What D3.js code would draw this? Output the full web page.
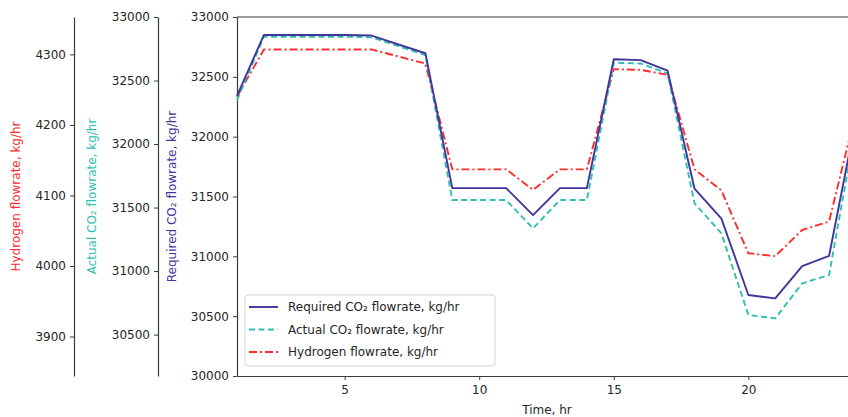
<!DOCTYPE html>
<html>
<head>
<meta charset="utf-8">
<script src="https://cdn.jsdelivr.net/npm/d3@7/dist/d3.min.js"></script>
<style>
  html, body { margin: 0; padding: 0; background: #fff; overflow: hidden; }
  svg { display: block; font-family: "DejaVu Sans", sans-serif; }
</style>
</head>
<body>
<svg id="chart" width="848" height="417"></svg>
<script>
// Hourly flowrates over one day
const hours = [1,2,3,4,5,6,7,8,9,10,11,12,13,14,15,16,17,18,19,20,21,22,23,24];
const requiredCO2 = [32340,32850,32850,32850,32850,32845,32770,32697,31570,31570,31570,31345,31570,31570,32647,32640,32551,31565,31315,30677,30649,30919,31003,32150];
const actualCO2   = [32346,32845,32845,32845,32845,32840,32770,32701,31559,31559,31559,31336,31559,31559,32640,32634,32557,31533,31297,30654,30628,30903,30969,32150];
const hydrogen    = [4240,4307,4307,4307,4307,4307,4297,4287,4137,4137,4137,4108,4137,4137,4279,4278,4271,4137,4107,4018,4014,4051,4063,4219];

const xTicks = [5,10,15,20];
const requiredTicks = [30000,30500,31000,31500,32000,32500,33000];
const actualTicks = [30500,31000,31500,32000,32500,33000];
const hydrogenTicks = [3900,4000,4100,4200,4300];

const colors = { required: "#3f369c", actual: "#2fbfb3", hydrogen: "#fb2d2d" };

const svg = d3.select("#chart");
const plot = { left: 237, right: 856, top: 17, bottom: 376 };

const x = d3.scaleLinear().domain([1, 24]).range([plot.left, plot.right]);
const yReq = d3.scaleLinear().domain([30000, 33000]).range([plot.bottom, plot.top]);
const yAct = d3.scaleLinear().domain([30174, 33000]).range([plot.bottom, plot.top]);
const yH2  = d3.scaleLinear().domain([3844, 4353]).range([plot.bottom, plot.top]);

const spineColor = "#3a3a3a";
const tickText = "#262626";

function styleAxis(g) {
  g.select(".domain").attr("stroke", spineColor).attr("stroke-width", 1.2);
  g.selectAll(".tick line").attr("stroke", spineColor).attr("stroke-width", 1);
  g.selectAll(".tick text").attr("fill", tickText).style("font-size", "12px")
    .style("font-family", "'DejaVu Sans', sans-serif");
}

// Left spines: hydrogen, actual, required
const axisDefs = [
  { scale: yH2, ticks: hydrogenTicks, xPos: 74 },
  { scale: yAct, ticks: actualTicks, xPos: 158 },
  { scale: yReq, ticks: requiredTicks, xPos: plot.left }
];
axisDefs.forEach(a => {
  const g = svg.append("g").attr("transform", `translate(${a.xPos},0)`)
    .call(d3.axisLeft(a.scale).tickValues(a.ticks).tickFormat(d3.format("d"))
      .tickSize(4).tickSizeOuter(0).tickPadding(4));
  styleAxis(g);
});

// Bottom axis
const gx = svg.append("g").attr("transform", `translate(0,${plot.bottom})`)
  .call(d3.axisBottom(x).tickValues(xTicks).tickSize(4).tickSizeOuter(0).tickPadding(5));
styleAxis(gx);

// Top and right frame
svg.append("line").attr("x1", plot.left).attr("x2", plot.right)
  .attr("y1", plot.top).attr("y2", plot.top)
  .attr("stroke", spineColor).attr("stroke-width", 1.2);
svg.append("line").attr("x1", plot.right).attr("x2", plot.right)
  .attr("y1", plot.top).attr("y2", plot.bottom)
  .attr("stroke", spineColor).attr("stroke-width", 1.2);

// Axis titles
svg.append("text").attr("x", 547).attr("y", 414).attr("text-anchor", "middle")
  .attr("fill", tickText).style("font-size", "12px").text("Time, hr");

const titles = [
  { text: "Required CO₂ flowrate, kg/hr", x: 172, color: colors.required },
  { text: "Actual CO₂ flowrate, kg/hr", x: 92, color: colors.actual },
  { text: "Hydrogen flowrate, kg/hr", x: 16, color: colors.hydrogen }
];
titles.forEach(t => {
  svg.append("text")
    .attr("transform", `translate(${t.x},${(plot.top + plot.bottom) / 2}) rotate(-90)`)
    .attr("text-anchor", "middle").attr("dominant-baseline", "central")
    .attr("fill", t.color).style("font-size", "12px").text(t.text);
});

// Series lines
const series = [
  { key: "required", values: requiredCO2, scale: yReq, dash: null, label: "Required CO₂ flowrate, kg/hr" },
  { key: "actual", values: actualCO2, scale: yAct, dash: "6,3.5", label: "Actual CO₂ flowrate, kg/hr" },
  { key: "hydrogen", values: hydrogen, scale: yH2, dash: "8,3,2,3", label: "Hydrogen flowrate, kg/hr" }
];

// Drawn with the hydrogen series underneath, required on top
[series[2], series[1], series[0]].forEach(s => {
  const line = d3.line().x((d, i) => x(hours[i])).y(d => s.scale(d));
  svg.append("path").datum(s.values)
    .attr("d", line).attr("fill", "none")
    .attr("stroke", colors[s.key]).attr("stroke-width", 1.9)
    .attr("stroke-linejoin", "round")
    .attr("stroke-dasharray", s.dash);
});

// Legend
const legend = svg.append("g").attr("transform", "translate(245,295)");
legend.append("rect").attr("width", 250).attr("height", 71).attr("rx", 3)
  .attr("fill", "#fff").attr("fill-opacity", 0.85)
  .attr("stroke", "#d3d3d3").attr("stroke-width", 1);
series.forEach((s, i) => {
  const cy = 12 + i * 22.5;
  legend.append("line").attr("x1", 4).attr("x2", 33).attr("y1", cy).attr("y2", cy)
    .attr("stroke", colors[s.key]).attr("stroke-width", 1.9)
    .attr("stroke-dasharray", s.dash);
  legend.append("text").attr("x", 43).attr("y", cy).attr("dominant-baseline", "central")
    .attr("fill", tickText).style("font-size", "12px").text(s.label);
});
</script>
</body>
</html>
